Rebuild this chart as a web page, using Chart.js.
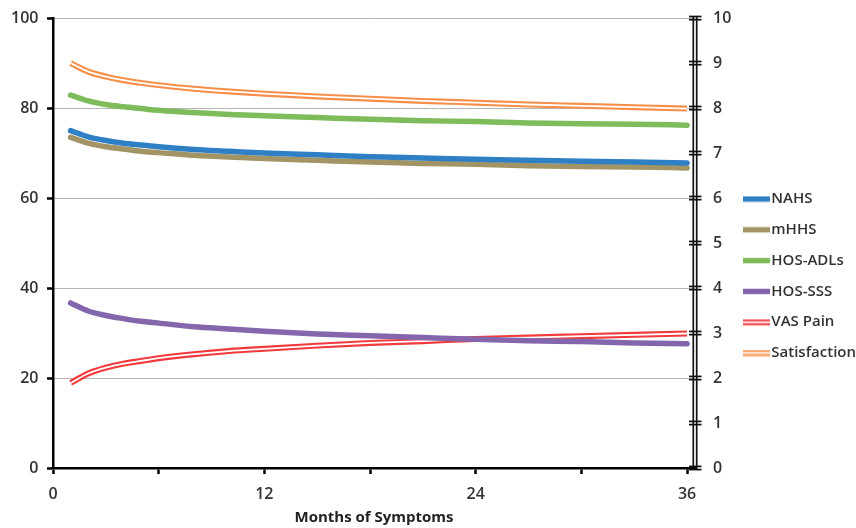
<!DOCTYPE html>
<html><head><meta charset="utf-8">
<script src="https://cdn.jsdelivr.net/npm/chart.js@4"></script>
<style>html,body{margin:0;padding:0;background:#fff}#wrap{width:856px;height:528px}</style>
</head><body><div id="wrap"><canvas id="c" width="856" height="528"></canvas></div>
<script>
// ---- data ----
const months       = [1, 2, 3, 4, 5, 6, 8, 10, 12, 15, 18, 21, 24, 27, 30, 33, 36];
const nahs         = [75.0, 73.6, 72.8, 72.2, 71.8, 71.4, 70.8, 70.4, 70.0, 69.6, 69.2, 68.9, 68.6, 68.4, 68.2, 68.0, 67.8];
const mhhs         = [73.5, 72.2, 71.4, 70.9, 70.4, 70.1, 69.5, 69.1, 68.8, 68.4, 68.0, 67.7, 67.5, 67.2, 67.0, 66.9, 66.7];
const hosAdl       = [82.9, 81.6, 80.8, 80.3, 79.9, 79.5, 79.0, 78.6, 78.3, 77.9, 77.5, 77.2, 77.0, 76.7, 76.5, 76.4, 76.2];
const hosSss       = [36.7, 34.9, 33.9, 33.2, 32.6, 32.2, 31.4, 30.9, 30.4, 29.8, 29.4, 29.0, 28.6, 28.3, 28.1, 27.8, 27.6];
const vasPain      = [1.89, 2.10, 2.23, 2.32, 2.38, 2.44, 2.53, 2.60, 2.65, 2.72, 2.78, 2.82, 2.87, 2.90, 2.93, 2.96, 2.99];
const satisfaction = [9.00, 8.81, 8.70, 8.62, 8.56, 8.51, 8.43, 8.37, 8.32, 8.26, 8.21, 8.16, 8.12, 8.08, 8.05, 8.02, 7.99];

const seriesLabels = ['NAHS', 'mHHS', 'HOS-ADLs', 'HOS-SSS', 'VAS Pain', 'Satisfaction'];
const xTickValues  = [0, 6, 12, 18, 24, 30, 36];
const xTickLabels  = ['0', '', '12', '', '24', '', '36'];
const xTitle       = 'Months of Symptoms';

// ---- styling ----
const colors   = ['#2f7fc4', '#a39466', '#7dbb5b', '#8466ac', '#f03a3c', '#f78f4a'];
const isDouble = [false, false, false, false, true, true];
const axisIds  = ['y', 'y', 'y', 'y', 'y2', 'y2'];
const seriesData = [nahs, mhhs, hosAdl, hosSss, vasPain, satisfaction];

function legendImg(color, dbl) {
  const c = document.createElement('canvas');
  c.width = 27; c.height = 7;
  const g = c.getContext('2d');
  g.fillStyle = color;
  if (dbl) { g.fillRect(0, 0.6, 27, 2); g.fillRect(0, 4.4, 27, 2); }
  else { g.fillRect(0, 0.8, 27, 5.4); }
  return c;
}
const legendImgs = colors.map((c, i) => legendImg(c, isDouble[i]));

const datasets = seriesLabels.map((lab, i) => ({
  label: lab,
  data: months.map((m, k) => ({ x: m, y: seriesData[i][k] })),
  borderColor: colors[i],
  backgroundColor: colors[i],
  borderWidth: isDouble[i] ? 6 : 5.5,
  borderCapStyle: isDouble[i] ? 'butt' : 'round',
  pointRadius: 0,
  pointHoverRadius: 0,
  tension: 0.4,
  cubicInterpolationMode: 'monotone',
  fill: false,
  yAxisID: axisIds[i],
  double: isDouble[i]
}));

const decor = {
  id: 'decor',
  afterDatasetDraw(chart, args) {
    const ds = chart.data.datasets[args.index];
    if (!ds.double) return;
    const pts = args.meta.data;
    const ctx = chart.ctx;
    ctx.save();
    ctx.strokeStyle = '#ffffff';
    ctx.lineWidth = 1.8;
    ctx.lineCap = 'butt';
    ctx.lineJoin = 'round';
    ctx.beginPath();
    pts.forEach((p, i) => {
      if (i === 0) ctx.moveTo(p.x, p.y);
      else {
        const q = pts[i - 1];
        ctx.bezierCurveTo(q.cp2x, q.cp2y, p.cp1x, p.cp1y, p.x, p.y);
      }
    });
    ctx.stroke();
    ctx.restore();
  },
  afterDraw(chart) {
    const y2 = chart.scales.y2;
    const ca = chart.chartArea;
    const ctx = chart.ctx;
    ctx.save();
    ctx.strokeStyle = '#111';
    ctx.lineWidth = 1.7;
    const xr = ca.right;
    [xr - 1.7, xr + 1.7].forEach(x => {
      ctx.beginPath(); ctx.moveTo(x, ca.top - 2); ctx.lineTo(x, ca.bottom + 1); ctx.stroke();
    });
    y2.ticks.forEach(t => {
      const y = y2.getPixelForValue(t.value);
      [y - 1.6, y + 1.6].forEach(yy => {
        ctx.beginPath(); ctx.moveTo(xr - 6, yy); ctx.lineTo(xr + 6.5, yy); ctx.stroke();
      });
    });
    ctx.restore();
  }
};

const tickFont = { family: 'Open Sans', size: 16, weight: '600' };
const textColor = '#333333';
const LEGEND_W = 122;
const RIGHT_EDGE = 695;

new Chart(document.getElementById('c'), {
  type: 'line',
  data: { datasets },
  plugins: [decor],
  options: {
    responsive: false,
    animation: false,
    events: [],
    layout: { padding: { top: 9, left: 0, right: 0, bottom: 0 } },
    plugins: {
      tooltip: { enabled: false },
      legend: {
        position: 'right',
        maxWidth: LEGEND_W,
        title: { display: true, text: ' ', font: { size: 10 }, padding: { top: 1.5, bottom: 1.5 } },
        labels: {
          font: { family: 'Open Sans', size: 15, weight: '600' },
          color: textColor,
          usePointStyle: true,
          pointStyleWidth: 14,
          padding: 15.8,
          generateLabels(chart) {
            const items = Chart.defaults.plugins.legend.labels.generateLabels(chart);
            items.forEach(it => { it.pointStyle = legendImgs[it.datasetIndex]; });
            return items;
          }
        }
      }
    },
    scales: {
      x: {
        type: 'linear',
        min: 0,
        max: 36.45,
        afterBuildTicks(axis) { axis.ticks = xTickValues.map(v => ({ value: v })); },
        afterFit(s) { s.height = 60; },
        ticks: {
          autoSkip: false, maxRotation: 0, padding: 11,
          font: tickFont, color: textColor,
          callback(v) { const i = xTickValues.indexOf(v); return i >= 0 ? xTickLabels[i] : ''; }
        },
        grid: { display: true, drawOnChartArea: false, tickColor: '#000', tickLength: 6, tickWidth: 2.5 },
        border: { color: '#000', width: 2.5 },
        title: { display: true, text: xTitle, color: '#222', font: { family: 'Open Sans', size: 15, weight: 'bold' }, padding: { top: 0, bottom: 1 } }
      },
      y: {
        position: 'left',
        min: 0, max: 100,
        afterFit(s) { s.width = 53; },
        ticks: { stepSize: 20, padding: 8.5, font: tickFont, color: textColor },
        grid: { color: '#b5b5b5', lineWidth: 1, tickColor: '#000', tickLength: 6, tickWidth: 2.5 },
        border: { color: '#000', width: 2.5 }
      },
      y2: {
        position: 'right',
        min: 0, max: 10,
        afterFit(s) { s.width = 856 - RIGHT_EDGE - LEGEND_W; },
        ticks: { stepSize: 1, padding: 0, font: tickFont, color: textColor },
        grid: { display: false, drawTicks: true, tickLength: 18 },
        border: { display: false }
      }
    }
  }
});
</script>
</body></html>
